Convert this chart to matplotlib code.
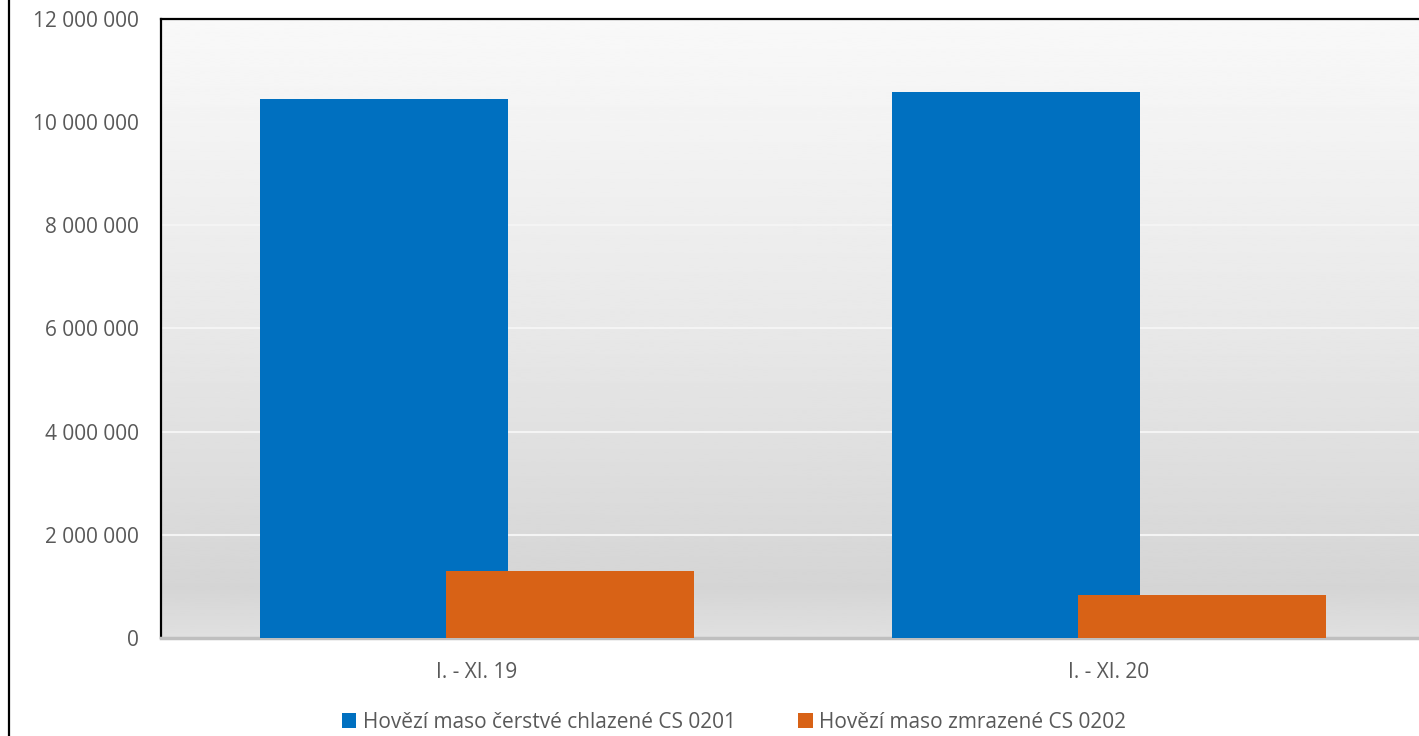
import numpy as np
import matplotlib
matplotlib.use('Agg')
import matplotlib.pyplot as plt
from matplotlib.ticker import FuncFormatter
from matplotlib.lines import Line2D

# data
categories = ['I. - XI. 19', 'I. - XI. 20']
chilled = [10440000, 10590000]
frozen = [1290000, 830000]
series_names = ['Hovězí maso čerstvé chlazené CS 0201', 'Hovězí maso zmrazené CS 0202']
yticks = [0, 2000000, 4000000, 6000000, 8000000, 10000000, 12000000]

plt.rcParams['font.family'] = ['Open Sans', 'DejaVu Sans']
text_col = '#595959'
fs = 15

fig = plt.figure(figsize=(14.19, 7.36), dpi=100)
ax = fig.add_axes([161 / 1419, 98 / 736, 1264 / 1419, 619 / 736])

# background gradient of the plot area
stops_y = [0.0, 0.08, 0.5, 1.0]
stops_c = [0.88, 0.835, 0.91, 0.975]
yy = np.linspace(0, 1, 300)
grad = np.interp(yy, stops_y, stops_c)[:, None]
ax.imshow(grad, extent=[-0.5, 1.5, 0, 12000000], origin='lower', aspect='auto',
          cmap='gray', vmin=0, vmax=1, zorder=0)

x = np.arange(len(categories))
w = 0.392
off = 0.147
ax.bar(x - off, chilled, width=w, color='#0070C0', zorder=3, label=series_names[0])
ax.bar(x + off, frozen, width=w, color='#D86216', zorder=4, label=series_names[1])

ax.set_xlim(-0.5, 1.5)
ax.set_ylim(0, 12000000)
ax.set_yticks(yticks)
ax.yaxis.set_major_formatter(FuncFormatter(lambda v, p: f'{int(v):,}'.replace(',', ' ')))
ax.set_xticks(x)
ax.set_xticklabels(categories)
ax.tick_params(axis='both', length=0, labelsize=fs, colors=text_col)
ax.tick_params(axis='y', pad=16)
ax.tick_params(axis='x', pad=17)
for t in ax.get_xticklabels() + ax.get_yticklabels():
    t.set_color(text_col)

ax.grid(axis='y', color='#f4f4f4', linewidth=1.5, zorder=1)
ax.set_axisbelow(True)

ax.spines['left'].set_color('black')
ax.spines['left'].set_linewidth(1.6)
ax.spines['top'].set_color('black')
ax.spines['top'].set_linewidth(1.6)
ax.spines['bottom'].set_color('#bfbfbf')
ax.spines['bottom'].set_linewidth(2.5)
ax.spines['right'].set_visible(False)

leg = fig.legend(loc='center', bbox_to_anchor=(734 / 1419, 14 / 736), ncol=2, frameon=False,
                 fontsize=fs, handlelength=0.7, handleheight=0.7, handletextpad=0.3,
                 columnspacing=3.0, labelcolor=text_col)

# outer chart border on the left
fig.add_artist(Line2D([8.5 / 1419, 8.5 / 1419], [0, 1], color='black', linewidth=1.6,
                      transform=fig.transFigure))

fig.savefig('out.png', dpi=100)
